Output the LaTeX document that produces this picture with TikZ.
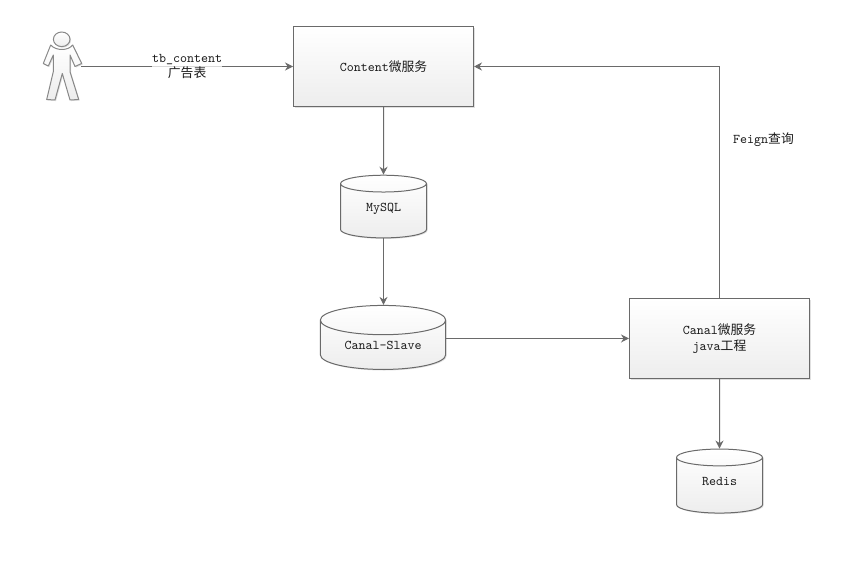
\documentclass[tikz,border=0pt]{standalone}
\usepackage{fontspec}
\newfontfamily\cjk{Noto Sans CJK SC}[Scale=.96]
\usetikzlibrary{shapes.geometric,shadows,arrows.meta}
\definecolor{linegray}{HTML}{6A6A6A}
\definecolor{textgray}{HTML}{1A1A1A}
\tikzset{
	softshadow/.style={drop shadow={shadow xshift=.8pt,shadow yshift=-.8pt,opacity=.12,fill=black}},
	service/.style={draw=linegray,line width=.75pt,top color=white,bottom color=black!7,softshadow,
		minimum width=135pt,minimum height=60pt,inner sep=0pt,align=center,text=textgray,font=\ttfamily\fontsize{10}{11.5}\selectfont},
	store/.style={cylinder,shape border rotate=90,draw=linegray,line width=.75pt,top color=white,bottom color=black!7,softshadow,
		inner sep=0pt,text=textgray,font=\ttfamily\fontsize{10}{11.5}\selectfont},
	flow/.style={draw=linegray,line width=.75pt,-{Stealth[length=6pt,width=6pt]}},
	tag/.style={text=textgray,align=center,font=\ttfamily\fontsize{10}{11.5}\selectfont}
}
\begin{document}
\begin{tikzpicture}[x=.75pt,y=-.75pt]
	\useasboundingbox (0,0) rectangle (866,567);
	% user figure
	\node (User) at (62,66.5) [minimum width=28.5pt,minimum height=52pt,inner sep=0pt] {};
	\draw[draw=linegray!80,line width=.75pt,top color=white,bottom color=black!7,softshadow,line join=round]
		(50.7,45) .. controls (56,51) and (68,51) .. (72.7,45)
		-- (81.7,63.5) -- (75,66.5) -- (70,55) -- (70,71.7)
		-- (78.7,99.5) -- (70,100) -- (62.3,73.5) -- (55,100) -- (46.7,99.5) -- (53.3,71.7)
		-- (53.3,55) -- (48.3,66) -- (43.3,63.5) -- cycle;
	\draw[draw=linegray!80,line width=.75pt,top color=white,bottom color=black!7,softshadow] (61.7,39.3) ellipse [x radius=8.3,y radius=7.3];
	% services
	\node (Content) at (383.5,66.5) [service] {Content{\cjk 微服务}};
	\node (Canal) at (719.5,338.5) [service] {Canal{\cjk 微服务}\\java{\cjk 工程}};
	% stores
	\node (MySQL) at (383.5,211) [store,minimum width=64.5pt,minimum height=47pt,aspect=.48] {\smash{MySQL}};
	\node (Slave) at (383,345) [store,minimum width=94pt,minimum height=48pt,aspect=.38] {Canal-Slave};
	\node (Redis) at (719.5,485.5) [store,minimum width=64.5pt,minimum height=48pt,aspect=.48] {\smash{Redis}};
	% connectors
	\draw[flow] (User.east) -- node[tag,fill=white,fill opacity=.75,text opacity=1,inner sep=0pt] (Table) {tb\_content\\{\cjk 广告表}} (Content.west);
	\draw[flow] (Content.south) -- (MySQL.north);
	\draw[flow] (MySQL.south) -- (Slave.north -| MySQL.south);
	\draw[flow] ([yshift=4.9pt]Slave.east) -- ([yshift=4.9pt]Slave.east -| Canal.west);
	\draw[flow] (Canal.south) -- (Redis.north);
	\draw[flow] (Canal.north) |- (Content.east);
	\node (Feign) at (763.5,140) [tag] {Feign{\cjk 查询}};
\end{tikzpicture}
\end{document}
